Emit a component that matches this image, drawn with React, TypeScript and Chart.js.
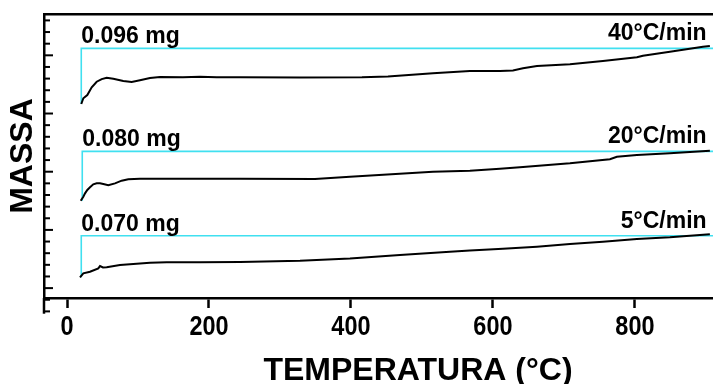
import React, { useEffect, useRef } from 'react';
import { Chart, registerables } from 'chart.js';

Chart.register(...registerables);

// ---- data (temperature in °C, mass in display units with per-curve offsets) ----
const xTickValues = [0, 200, 400, 600, 800];

const temps40 = [20.1, 23.0, 28.6, 34.8, 41.8, 48.9, 55.9, 65.2, 79.3, 91.1, 102.8, 116.9, 131.0, 163.4, 187.3, 210.8, 243.7, 328.2, 415.5, 452.1, 515.5, 567.6, 609.9, 628.2, 642.3, 662.0, 708.5, 754.9, 802.8, 811.3, 849.3, 895.8, 905.6];
const mass40 = [16.82, 17.31, 17.59, 18.25, 18.73, 18.96, 19.08, 18.99, 18.8, 18.7, 18.86, 19.05, 19.14, 19.11, 19.16, 19.11, 19.11, 19.09, 19.11, 19.18, 19.45, 19.65, 19.66, 19.7, 19.88, 20.08, 20.23, 20.51, 20.83, 20.97, 21.31, 21.74, 21.80];

const temps20 = [19.3, 23.0, 25.4, 28.6, 32.4, 37.0, 41.8, 46.5, 51.1, 58.2, 67.6, 77.0, 86.3, 102.8, 140.4, 243.7, 349.3, 398.6, 515.5, 567.6, 609.9, 638.0, 708.5, 764.8, 774.6, 802.8, 849.3, 905.6];
const mass20 = [8.51, 8.85, 9.14, 9.43, 9.66, 9.92, 10.0, 10.0, 9.94, 9.83, 10.0, 10.23, 10.35, 10.40, 10.40, 10.40, 10.37, 10.57, 11.00, 11.09, 11.26, 11.38, 11.72, 12.07, 12.29, 12.44, 12.58, 12.80];

const temps5 = [18.3, 23.0, 32.4, 44.1, 46.5, 50.7, 55.9, 74.6, 93.4, 116.9, 140.4, 187.3, 243.7, 328.2, 398.6, 469.0, 539.4, 567.6, 614.1, 662.0, 708.5, 754.9, 802.8, 849.3, 905.6];
const mass5 = [1.93, 2.27, 2.41, 2.70, 2.90, 2.77, 2.79, 2.99, 3.07, 3.18, 3.22, 3.22, 3.24, 3.35, 3.55, 3.85, 4.12, 4.24, 4.38, 4.56, 4.79, 4.99, 5.22, 5.36, 5.62];

// initial-mass reference brackets (cyan)
const startTemps = [20.1, 21.5, 20.1];
const topLevels = [21.6, 12.75, 5.5];
const massLabels = ['0.096 mg', '0.080 mg', '0.070 mg'];
const rateLabels = ['40°C/min', '20°C/min', '5°C/min'];

const X_MIN = -32.4;
const X_MAX = 910;
const Y_MIN = 0.15;
const Y_MAX = 24.55;
const RATE_LABEL_X = 901;

const SANS = '"Liberation Sans", Arial, Helvetica, sans-serif';

export default function App() {
  const ref = useRef<HTMLCanvasElement | null>(null);

  useEffect(() => {
    const canvas = ref.current;
    if (!canvas) return;

    const curves = [
      { t: temps40, m: mass40 },
      { t: temps20, m: mass20 },
      { t: temps5, m: mass5 },
    ];

    const blackSets = curves.map((c) => ({
      data: c.t.map((t, i) => ({ x: t, y: c.m[i] })),
      borderColor: '#000000',
      borderWidth: 2,
      pointRadius: 0,
      showLine: true,
      tension: 0,
      order: 0,
    }));

    const cyanSets = curves.map((c, i) => ({
      data: [
        { x: startTemps[i], y: c.m[0] },
        { x: startTemps[i], y: topLevels[i] },
        { x: X_MAX + 50, y: topLevels[i] },
      ],
      borderColor: '#40E0F0',
      borderWidth: 1.6,
      pointRadius: 0,
      showLine: true,
      tension: 0,
      order: 1,
    }));

    const decor = {
      id: 'decor',
      afterDraw(chart: any) {
        const ctx = chart.ctx as CanvasRenderingContext2D;
        const xs = chart.scales.x;
        const ys = chart.scales.y;
        const area = chart.chartArea;
        ctx.save();
        // inner ticks on left axis
        ctx.strokeStyle = '#000';
        ctx.lineWidth = 2;
        for (let k = -1; k <= 24; k++) {
          const py = ys.getPixelForValue(k);
          if (py < area.top + 3) continue;
          const major = ((k - 1) % 5 + 5) % 5 === 0;
          const len = major ? 9 : 6;
          ctx.beginPath();
          ctx.moveTo(area.left, py);
          ctx.lineTo(area.left + len, py);
          ctx.stroke();
        }
        // left axis stub below the x axis
        ctx.lineWidth = 2.5;
        ctx.beginPath();
        ctx.moveTo(area.left, area.bottom);
        ctx.lineTo(area.left, ys.getPixelForValue(-1.2));
        ctx.stroke();

        ctx.fillStyle = '#000';
        // x tick labels (condensed bold)
        ctx.font = `bold 27px ${SANS}`;
        ctx.textAlign = 'center';
        ctx.textBaseline = 'alphabetic';
        const sx = 0.87;
        for (const v of xTickValues) {
          const px = xs.getPixelForValue(v);
          ctx.save();
          ctx.translate(px, area.bottom + 36.5);
          ctx.scale(sx, 1);
          ctx.fillText(String(v), 0, 0);
          ctx.restore();
        }

        // curve labels
        ctx.font = `bold 23px ${SANS}`;
        for (let i = 0; i < 3; i++) {
          const lineY = ys.getPixelForValue(topLevels[i]);
          ctx.textAlign = 'left';
          ctx.fillText(massLabels[i], xs.getPixelForValue(startTemps[i]), lineY - 5);
          ctx.textAlign = 'right';
          ctx.fillText(rateLabels[i], xs.getPixelForValue(RATE_LABEL_X), lineY - 8);
        }

        // x axis title
        ctx.font = `bold 32px ${SANS}`;
        ctx.textAlign = 'center';
        ctx.fillText('TEMPERATURA (°C)', 418, 380);
        ctx.restore();
      },
    };

    const chart = new Chart(canvas, {
      type: 'scatter',
      data: { datasets: [...blackSets, ...cyanSets] as any },
      options: {
        responsive: false,
        animation: false,
        devicePixelRatio: 1,
        layout: { padding: 0 },
        plugins: {
          legend: { display: false },
          tooltip: { enabled: false },
          title: { display: false },
        },
        scales: {
          x: {
            type: 'linear',
            position: 'bottom',
            min: X_MIN,
            max: X_MAX,
            afterFit: (s: any) => { s.height = 86; },
            afterBuildTicks: (s: any) => { s.ticks = xTickValues.map((v) => ({ value: v })); },
            ticks: {
              display: false,
              includeBounds: false,
              autoSkip: false,
            },
            grid: {
              display: true,
              drawOnChartArea: false,
              drawTicks: true,
              tickLength: 10,
              tickColor: '#000',
              tickWidth: 2.5,
              color: '#000',
            },
            border: { display: true, color: '#000', width: 2.5 },
          },
          x2: {
            type: 'linear',
            position: 'top',
            display: true,
            min: X_MIN,
            max: X_MAX,
            afterFit: (s: any) => { s.height = 14; },
            ticks: { display: false },
            grid: { display: false, drawTicks: false },
            border: { display: true, color: '#000', width: 2.5 },
          },
          y: {
            type: 'linear',
            position: 'left',
            min: Y_MIN,
            max: Y_MAX,
            afterFit: (s: any) => { s.width = 44; },
            ticks: { display: false, stepSize: 1 },
            grid: { display: false, drawTicks: false },
            border: { display: true, color: '#000', width: 2.5 },
            title: {
              display: true,
              text: 'MASSA',
              color: '#000',
              font: { family: SANS, size: 32, weight: 'bold', lineHeight: 1.2 },
              padding: { top: 4, bottom: 0 },
            },
          },
        },
      } as any,
      plugins: [decor],
    });

    return () => chart.destroy();
  }, []);

  return (
    <div style={{ position: 'absolute', left: 0, top: 0, width: 713, height: 384, background: '#ffffff', overflow: 'hidden' }}>
      <canvas ref={ref} width={713} height={384} style={{ display: 'block' }} />
    </div>
  );
}
